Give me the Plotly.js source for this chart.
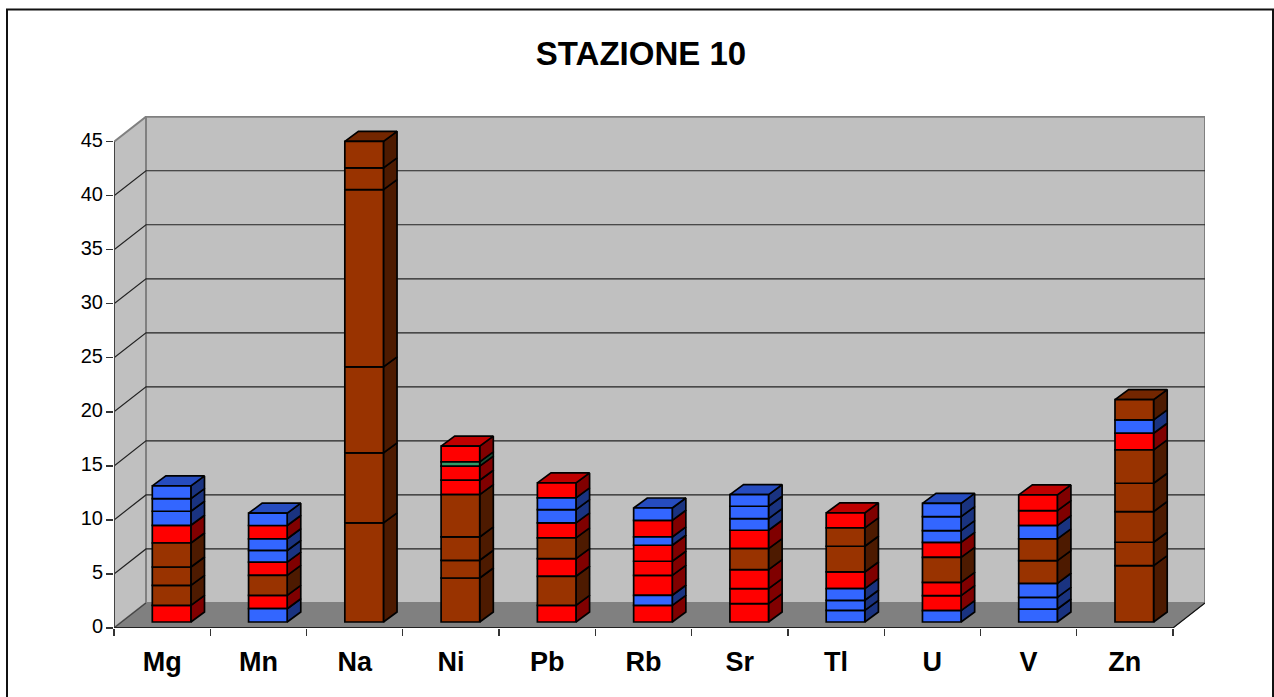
<!DOCTYPE html>
<html><head><meta charset="utf-8">
<script src="https://cdn.plot.ly/plotly-3.0.1.min.js"></script>
<style>html,body{margin:0;padding:0;background:#fff}#c{width:1274px;height:697px}</style>
</head><body><div id="c"></div>
<script>
// ---- data: segment values, bottom to top ----
const categories = ["Mg","Mn","Na","Ni","Pb","Rb","Sr","Tl","U","V","Zn"];
const yTicks = [0,5,10,15,20,25,30,35,40,45];
const chartTitle = "STAZIONE 10";
const valMg = [1.54,1.85,1.70,2.22,1.64,1.30,1.17,1.17];
const valMn = [1.23,1.23,1.85,1.23,1.08,1.08,1.23,1.14];
const valNa = [9.17,6.48,7.96,16.4,2.01,2.46];
const valNi = [4.07,1.64,2.16,3.92,1.33,1.30,0.40,1.45];
const valPb = [1.54,2.69,1.64,1.91,1.39,1.23,1.08,1.39];
const valRb = [1.54,0.93,1.85,1.30,1.48,0.77,1.54,1.14];
const valSr = [1.70,1.39,1.76,1.94,1.70,1.08,1.14,1.08];
const valTl = [1.08,0.93,1.08,1.54,2.38,1.70,1.39];
const valU  = [1.05,1.39,1.23,2.31,1.39,1.08,1.30,1.23];
const valV  = [1.20,1.08,1.30,2.10,2.01,1.23,1.39,1.45];
const valZn = [5.22,2.16,2.84,2.62,3.09,1.54,1.23,1.88];
// colour group of each segment: R red, B blue, M brown, G green
const grpMg = ["R","M","M","M","R","B","B","B"];
const grpMn = ["B","R","M","R","B","B","R","B"];
const grpNa = ["M","M","M","M","M","M"];
const grpNi = ["M","M","M","M","R","R","G","R"];
const grpPb = ["R","M","R","M","R","B","B","R"];
const grpRb = ["R","B","R","R","R","B","R","B"];
const grpSr = ["R","R","R","M","R","B","B","B"];
const grpTl = ["B","B","B","R","M","M","R"];
const grpU  = ["B","R","R","M","R","B","B","B"];
const grpV  = ["B","B","B","M","M","B","R","R"];
const grpZn = ["M","M","M","M","M","R","B","M"];
const allVals = [valMg,valMn,valNa,valNi,valPb,valRb,valSr,valTl,valU,valV,valZn];
const allGrps = [grpMg,grpMn,grpNa,grpNi,grpPb,grpRb,grpSr,grpTl,grpU,grpV,grpZn];

// ---- styles ----
const palette = {
  R:{front:"#FF0000",side:"#800000",top:"#BF0000"},
  B:{front:"#3366FF",side:"#1A3380",top:"#264CBF"},
  M:{front:"#993300",side:"#4D1A00",top:"#732600"},
  G:{front:"#339966",side:"#1A4D33",top:"#267350"}
};
const FONT = "Liberation Sans, Arial, sans-serif";
// ---- oblique projection parameters (pixels turned into axis units) ----
const W=1274,H=697, L=114,R=1205,T=116,B=627.7;
const pxPerCat=96.27, pxPerVal=10.8;
const wallDx=32/pxPerCat, wallDv=25/pxPerVal;
const barDx=13.6/pxPerCat, barDv=10/pxPerVal;
const barW=38.6/pxPerCat, barOff=-9.84/pxPerCat, barLift=6/pxPerVal;
const nCat=categories.length, vMax=yTicks[yTicks.length-1];
const xMax=(R-L)/pxPerCat, yMax=(B-T)/pxPerVal;

function poly(xs,ys,fill,line,lw,name){
  return {type:"scatter",mode:"lines",x:xs,y:ys,fill:"toself",fillcolor:fill,
    line:{color:line,width:lw},hoverinfo:"skip",showlegend:false,name:name||"",xaxis:"x",yaxis:"y"};
}
function path(xs,ys,color,lw){
  return {type:"scatter",mode:"lines",x:xs,y:ys,line:{color:color,width:lw},hoverinfo:"skip",showlegend:false,xaxis:"x",yaxis:"y"};
}
const traces=[];
// walls and floor
traces.push(poly([wallDx,xMax,xMax,wallDx,wallDx],[wallDv,wallDv,vMax+wallDv,vMax+wallDv,wallDv],"#C0C0C0","#808080",2));
traces.push(poly([0,wallDx,wallDx,0,0],[0,wallDv,vMax+wallDv,vMax,0],"#C0C0C0","#808080",2));
traces.push(poly([0,nCat,nCat+wallDx,wallDx,0],[0,0,wallDv,wallDv,0],"#808080","#808080",1));
// gridlines
yTicks.slice(1,-1).forEach(v=>traces.push(path([0,wallDx,nCat+wallDx],[v,v+wallDv,v+wallDv],"#222222",1.2)));
traces.push(path([0,wallDx],[0,wallDv],"#444444",1.2));
traces.push(path([nCat,nCat+wallDx],[0,wallDv],"#111111",1.2));
traces.push(path([0,0],[0,vMax],"#444444",2));
traces.push(path([0,nCat],[0,0],"#222222",2));

// per-colour side/top polygons and front bars
const front={};
Object.keys(palette).forEach(k=>front[k]={x:[],y:[],base:[]});
const sideTraces=[], topTraces=[];
allVals.forEach((vals,i)=>{
  const x1=i+0.5+barOff+barW, x0=x1-barW;
  let cum=barLift;
  vals.forEach((v,j)=>{
    const g=allGrps[i][j];
    front[g].x.push(categories[i]); front[g].y.push(v); front[g].base.push(cum);
    sideTraces.push(poly([x1,x1+barDx,x1+barDx,x1,x1],[cum,cum+barDv,cum+v+barDv,cum+v,cum],palette[g].side,"#000",1.7));
    cum+=v;
  });
  const gt=allGrps[i][vals.length-1];
  topTraces.push(poly([x0,x1,x1+barDx,x0+barDx,x0],[cum,cum,cum+barDv,cum+barDv,cum],palette[gt].top,"#000",1.7));
});
traces.push(...sideTraces,...topTraces);
Object.keys(front).forEach(k=>{
  traces.push({type:"bar",x:front[k].x,y:front[k].y,base:front[k].base,width:barW,offset:barOff,
    marker:{color:palette[k].front,line:{color:"#000",width:1.7}},xaxis:"x2",yaxis:"y",showlegend:false,hoverinfo:"skip"});
});

const layout={
  width:W,height:H,paper_bgcolor:"#fff",plot_bgcolor:"rgba(0,0,0,0)",showlegend:false,barmode:"overlay",
  margin:{l:L,r:W-R,t:T,b:H-B,pad:0},
  title:{text:chartTitle,font:{family:FONT,size:33,color:"#000",weight:700},x:641/W,xanchor:"center",y:1-53/H,yanchor:"middle"},
  xaxis:{type:"linear",range:[0,xMax],visible:false,fixedrange:true},
  xaxis2:{type:"category",overlaying:"x",anchor:"y",side:"bottom",categoryorder:"array",categoryarray:categories,
    range:[-0.5,xMax-0.5],tickson:"boundaries",ticks:"outside",ticklen:7,tickwidth:1.3,tickcolor:"#333",
    showgrid:false,zeroline:false,showline:false,fixedrange:true,
    ticklabelstandoff:15,tickfont:{family:FONT,size:27,color:"#000",weight:700}},
  yaxis:{type:"linear",range:[0,yMax],tickmode:"array",tickvals:yTicks,ticktext:yTicks.map(String),
    ticks:"outside",ticklen:7,tickwidth:1.3,tickcolor:"#333",showgrid:false,zeroline:false,showline:false,fixedrange:true,
    ticklabelstandoff:-1,ticklabelshift:-2,tickfont:{family:FONT,size:20,color:"#000"}},
  shapes:[{type:"rect",xref:"paper",yref:"paper",
    x0:(7-L)/(R-L),x1:(1273-L)/(R-L),y0:(B-720)/(B-T),y1:(B-9.5)/(B-T),
    line:{color:"#111",width:2},fillcolor:"rgba(0,0,0,0)",layer:"below"}]
};
Plotly.newPlot("c",traces,layout,{displayModeBar:false,staticPlot:true});
</script></body></html>
